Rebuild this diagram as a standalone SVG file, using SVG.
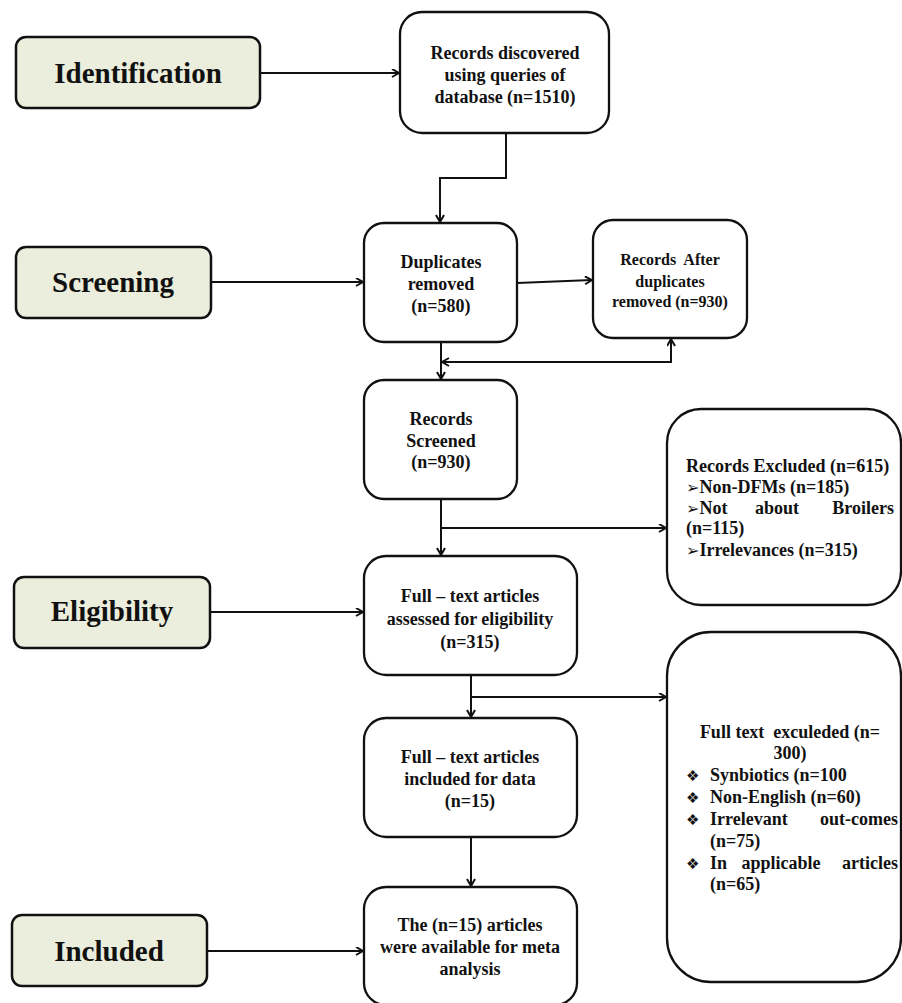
<svg xmlns="http://www.w3.org/2000/svg" width="902" height="1003" viewBox="0 0 902 1003">
<style>
.stage{fill:#EBEEDC;stroke:#111;stroke-width:2.5}
.box{fill:#fff;stroke:#111;stroke-width:2.3}
.st{font-family:"Liberation Serif","DejaVu Serif",serif;font-weight:bold;font-size:29px;fill:#111;text-anchor:middle}
.t{font-family:"Liberation Serif","DejaVu Serif",serif;font-weight:bold;font-size:18px;fill:#111;text-anchor:middle}
.ts{font-size:16px}
.l{text-anchor:start}
.e{text-anchor:end}
.sym{font-family:"DejaVu Sans",sans-serif;font-size:15px;font-weight:normal}
.arw{font-family:"DejaVu Sans",sans-serif;font-size:16px;font-weight:normal}
.c{fill:none;stroke:#111;stroke-width:2}
</style>
<defs>
<marker id="ar" markerWidth="10" markerHeight="10" refX="8" refY="4.5" orient="auto-start-reverse" markerUnits="userSpaceOnUse">
<path d="M1,0.5 L8,4.5 L1,8.5" fill="none" stroke="#111" stroke-width="2"/>
</marker>
</defs>
<rect width="902" height="1003" fill="#fff"/>
<g id="connectors">
<path class="c" d="M260,73 H399" marker-end="url(#ar)"/>
<path class="c" d="M506,133 V178 H440 V222" marker-end="url(#ar)"/>
<path class="c" d="M211,282 H363" marker-end="url(#ar)"/>
<path class="c" d="M517,283 L592,280" marker-end="url(#ar)"/>
<path class="c" d="M441,342 V379" marker-end="url(#ar)"/>
<path class="c" d="M442,362 H671 V339" marker-start="url(#ar)" marker-end="url(#ar)"/>
<path class="c" d="M441,499 V555" marker-end="url(#ar)"/>
<path class="c" d="M441,528 H666" marker-end="url(#ar)"/>
<path class="c" d="M210,612 H363" marker-end="url(#ar)"/>
<path class="c" d="M471,675 V717" marker-end="url(#ar)"/>
<path class="c" d="M471,697 H666" marker-end="url(#ar)"/>
<path class="c" d="M471,837 V886" marker-end="url(#ar)"/>
<path class="c" d="M207,951 H363" marker-end="url(#ar)"/>
</g>
<g id="identification">
<rect class="stage" x="16" y="37" width="244" height="71" rx="10"/>
<text class="st" x="138" y="83">Identification</text>
</g>
<g id="screening">
<rect class="stage" x="16" y="247" width="195" height="71" rx="10"/>
<text class="st" x="113" y="292">Screening</text>
</g>
<g id="eligibility">
<rect class="stage" x="14" y="577" width="196" height="71" rx="10"/>
<text class="st" x="112" y="621">Eligibility</text>
</g>
<g id="included">
<rect class="stage" x="12" y="915" width="195" height="71" rx="10"/>
<text class="st" x="109" y="961">Included</text>
</g>
<g id="records-discovered">
<rect class="box" x="400" y="12" width="209" height="121" rx="22"/>
<text class="t" x="505" y="59">Records discovered</text>
<text class="t" x="505" y="81">using queries of</text>
<text class="t" x="505" y="103">database (n=1510)</text>
</g>
<g id="duplicates-removed">
<rect class="box" x="364" y="223" width="153" height="119" rx="20"/>
<text class="t" x="441" y="268">Duplicates</text>
<text class="t" x="441" y="290">removed</text>
<text class="t" x="441" y="312">(n=580)</text>
</g>
<g id="records-after">
<rect class="box" x="593" y="220" width="154" height="118" rx="20"/>
<text class="t ts" x="670" y="265" style="white-space:pre">Records  After</text>
<text class="t ts" x="670" y="287">duplicates</text>
<text class="t ts" x="670" y="307">removed (n=930)</text>
</g>
<g id="records-screened">
<rect class="box" x="364" y="380" width="153" height="119" rx="20"/>
<text class="t" x="441" y="425">Records</text>
<text class="t" x="441" y="447">Screened</text>
<text class="t" x="441" y="468">(n=930)</text>
</g>
<g id="records-excluded">
<rect class="box" x="667" y="409" width="234" height="196" rx="34"/>
<text class="t l" x="686" y="472">Records Excluded (n=615)</text>
<text class="t l" x="686" y="493"><tspan class="arw">➢</tspan>Non-DFMs (n=185)</text>
<text class="t l" x="686" y="514"><tspan class="arw">➢</tspan>Not</text>
<text class="t" x="777" y="514">about</text>
<text class="t e" x="894" y="514">Broilers</text>
<text class="t l" x="686" y="534">(n=115)</text>
<text class="t l" x="686" y="556"><tspan class="arw">➢</tspan>Irrelevances (n=315)</text>
</g>
<g id="full-text-assessed">
<rect class="box" x="364" y="556" width="213" height="119" rx="22"/>
<text class="t" x="470" y="602">Full – text articles</text>
<text class="t" x="470" y="625">assessed for eligibility</text>
<text class="t" x="470" y="648">(n=315)</text>
</g>
<g id="full-text-excluded">
<rect class="box" x="667" y="632" width="234" height="350" rx="44"/>
<text class="t" x="790" y="738" style="white-space:pre">Full text  exculeded (n=</text>
<text class="t" x="790" y="759">300)</text>
<text class="t l" x="686" y="781"><tspan class="sym">❖</tspan><tspan x="710">Synbiotics (n=100</tspan></text>
<text class="t l" x="686" y="803"><tspan class="sym">❖</tspan><tspan x="710">Non-English (n=60)</tspan></text>
<text class="t l" x="686" y="825"><tspan class="sym">❖</tspan><tspan x="710">Irrelevant</tspan></text>
<text class="t e" x="898" y="825">out-comes</text>
<text class="t l" x="710" y="847">(n=75)</text>
<text class="t l" x="686" y="869"><tspan class="sym">❖</tspan><tspan x="710">In</tspan></text>
<text class="t" x="781" y="869">applicable</text>
<text class="t e" x="898" y="869">articles</text>
<text class="t l" x="710" y="890">(n=65)</text>
</g>
<g id="full-text-included">
<rect class="box" x="364" y="718" width="213" height="119" rx="22"/>
<text class="t" x="470" y="763">Full – text articles</text>
<text class="t" x="470" y="785">included for data</text>
<text class="t" x="470" y="807">(n=15)</text>
</g>
<g id="meta-analysis">
<rect class="box" x="364" y="887" width="213" height="118" rx="22"/>
<text class="t" x="470" y="931">The (n=15) articles</text>
<text class="t" x="470" y="953">were available for meta</text>
<text class="t" x="470" y="975">analysis</text>
</g>
</svg>
